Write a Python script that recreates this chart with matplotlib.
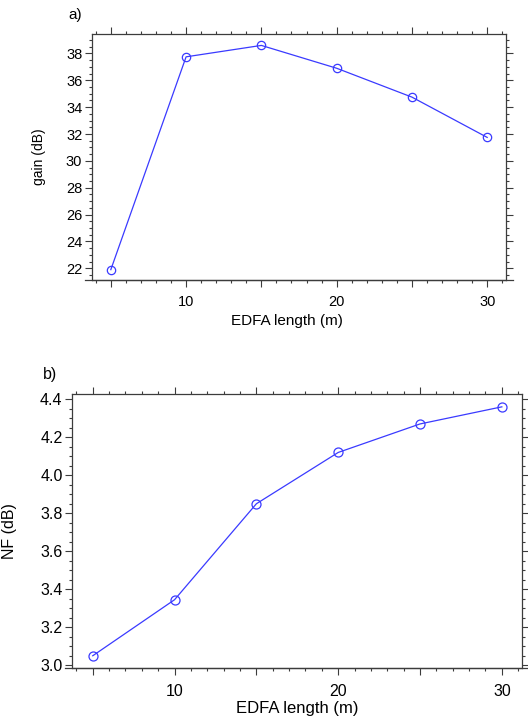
import matplotlib
matplotlib.use("Agg")
import matplotlib.pyplot as plt
from matplotlib.ticker import MultipleLocator

plt.rcParams['font.family'] = ['Liberation Sans', 'DejaVu Sans']

# Data
edfa_length = [5, 10, 15, 20, 25, 30]
gain_db = [21.9, 37.75, 38.6, 36.9, 34.75, 31.75]
nf_db = [3.05, 3.345, 3.85, 4.12, 4.27, 4.36]

x_ticklabels = [10, 20, 30]

line_color = '#3a3aff'
frame_color = '#3c3c3c'

fig = plt.figure(figsize=(5.28, 7.2), dpi=100)

W, H = 528.0, 720.0

def make_axes(left, right, top, bottom):
    return fig.add_axes([left / W, 1 - bottom / H, (right - left) / W, (bottom - top) / H])

ax1 = make_axes(92, 506, 34, 280)
ax2 = make_axes(72.3, 522.3, 394.3, 668.3)

def style(ax, fs_tick, ymaj, ymin_step, xpad):
    for sp in ax.spines.values():
        sp.set_color(frame_color)
        sp.set_linewidth(0.9)
    ax.xaxis.set_major_locator(MultipleLocator(5))
    ax.xaxis.set_minor_locator(MultipleLocator(1))
    ax.yaxis.set_major_locator(MultipleLocator(ymaj))
    ax.yaxis.set_minor_locator(MultipleLocator(ymin_step))
    ax.tick_params(which='both', direction='out', top=True, right=True,
                   color=frame_color, width=0.8, labelsize=fs_tick, pad=2)
    ax.tick_params(which='major', length=5)
    ax.tick_params(which='minor', length=2.5)
    ax.tick_params(axis='x', which='major', pad=xpad)
    ax.set_xlim(3.75, 31.25)
    ax.xaxis.set_major_formatter(plt.FuncFormatter(
        lambda v, p: f"{int(round(v))}" if int(round(v)) in x_ticklabels else ""))
    # extended axis lines, like the reference
    ax.plot([-0.017, 1.017], [0, 0], transform=ax.transAxes, clip_on=False,
            color=frame_color, lw=0.9)

# Top: gain
ax1.plot(edfa_length, gain_db, color=line_color, lw=0.9, marker='o',
         markersize=6, markerfacecolor='none', markeredgecolor=line_color,
         markeredgewidth=0.9)
style(ax1, 10.5, 2, 0.5, 5.5)
ax1.set_ylim(21.13, 39.45)
ax1.yaxis.set_major_formatter(plt.FuncFormatter(lambda v, p: f"{v:.0f}"))
ax1.set_ylabel('gain (dB)', fontsize=10)
ax1.yaxis.set_label_coords(-0.11, 0.5)
ax1.set_xlabel('EDFA length (m)', fontsize=11)
ax1.xaxis.set_label_coords((287 - 92) / 414.0, -(314 - 280) / 246.0)
fig.text(68 / W, 1 - 15 / H, 'a)', fontsize=11, ha='left', va='center')

# Bottom: NF
ax2.plot(edfa_length, nf_db, color=line_color, lw=0.9, marker='o',
         markersize=6.5, markerfacecolor='none', markeredgecolor=line_color,
         markeredgewidth=0.9)
style(ax2, 11.5, 0.2, 0.05, 6)
ax2.set_ylim(2.984, 4.426)
ax2.yaxis.set_major_formatter(plt.FuncFormatter(lambda v, p: f"{v:.1f}"))
ax2.set_ylabel('NF (dB)', fontsize=11.5)
ax2.yaxis.set_label_coords(-(72.3 - 17) / 450.0, 0.5)
ax2.set_xlabel('EDFA length (m)', fontsize=12)
ax2.xaxis.set_label_coords(0.5, -(701 - 668.3) / 274.0)
fig.text(43 / W, 1 - 374 / H, 'b)', fontsize=11.5, ha='left', va='center')

fig.savefig('out.png', dpi=100)
